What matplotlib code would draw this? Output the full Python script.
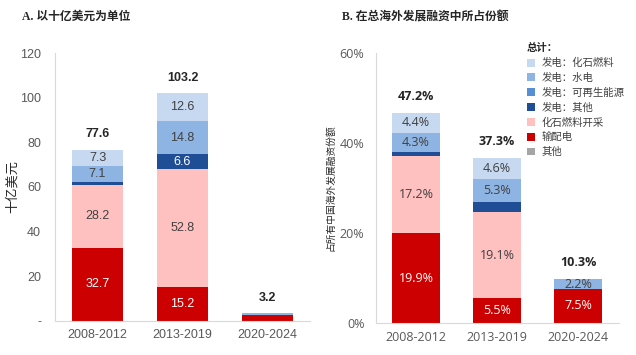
import matplotlib
matplotlib.use("Agg")
import matplotlib.pyplot as plt
from matplotlib.patches import Patch
import numpy as np

plt.rcParams['font.family'] = ['Liberation Sans', 'Noto Sans CJK SC', 'DejaVu Sans']

periods = ["2008-2012", "2013-2019", "2020-2024"]
series = ["发电：化石燃料", "发电：水电", "发电：可再生能源", "发电：其他",
          "化石燃料开采", "输配电", "其他"]
colors = ["#c6d9f1", "#8eb4e3", "#558ed5", "#1f4e96",
          "#ffc0c0", "#cc0000", "#a5a5a5"]
label_colors = ["#404040", "#404040", "#ffffff", "#ffffff",
                "#404040", "#ffffff", "#ffffff"]

# stacking order bottom -> top: 输配电, 化石燃料开采, 其他, 发电：其他, 可再生, 水电, 化石燃料
stack_order = [5, 4, 6, 3, 2, 1, 0]

# panel A, billion USD
usd = {
    "发电：化石燃料": [7.3, 12.6, 0.0],
    "发电：水电": [7.1, 14.8, 0.7],
    "发电：可再生能源": [0.0, 0.0, 0.0],
    "发电：其他": [1.2, 6.6, 0.0],
    "化石燃料开采": [28.2, 52.8, 0.0],
    "输配电": [32.7, 15.2, 2.5],
    "其他": [0.0, 0.0, 0.0],
}
usd_total = [77.6, 103.2, 3.2]

# panel B, share of overseas development finance (%)
share = {
    "发电：化石燃料": [4.4, 4.6, 0.0],
    "发电：水电": [4.3, 5.3, 2.2],
    "发电：可再生能源": [0.0, 0.0, 0.0],
    "发电：其他": [0.9, 2.2, 0.0],
    "化石燃料开采": [17.2, 19.1, 0.0],
    "输配电": [19.9, 5.5, 7.5],
    "其他": [0.0, 0.0, 0.0],
}
share_total = [47.2, 37.3, 10.3]


def stacked(ax, data, totals, fmt, min_label, skip, font, tot_fmt):
    x = np.arange(len(periods))
    bottom = np.zeros(len(periods))
    for i in stack_order:
        vals = np.array(data[series[i]])
        ax.bar(x, vals, 0.6, bottom=bottom, color=colors[i], linewidth=0)
        for xi, v, b in zip(x, vals, bottom):
            if v >= min_label and i not in skip:
                ax.text(xi, b + v / 2, fmt.format(v), ha="center", va="center",
                        color=label_colors[i], fontsize=9, family=font)
        bottom += vals
    for xi, b, t in zip(x, bottom, totals):
        ax.annotate(tot_fmt.format(t), (xi, b), xytext=(0, 7),
                    textcoords="offset points", ha="center", va="bottom",
                    fontsize=9, fontweight="bold", color="#262626", family=font)
    ax.set_xticks(x)
    ax.set_xticklabels(periods, fontsize=9, color="#595959", family=font)
    ax.set_xlim(-0.5, 2.5)
    for s in ["top", "right"]:
        ax.spines[s].set_visible(False)
    for s in ["left", "bottom"]:
        ax.spines[s].set_color("#d9d9d9")
    ax.tick_params(axis="x", length=0, pad=6)
    ax.tick_params(axis="y", length=0, pad=10)


fig = plt.figure(figsize=(6.36, 3.55), dpi=100)

axA = fig.add_axes([0.0865, 0.097, 0.401, 0.753])
stacked(axA, usd, usd_total, "{:.1f}", 3.0, [], "Liberation Sans", "{:.1f}")
axA.set_ylim(0, 120)
axA.set_yticks([0, 20, 40, 60, 80, 100, 120])
axA.set_yticklabels(["-", "20", "40", "60", "80", "100", "120"],
                    fontsize=9, color="#595959")
axA.set_ylabel("十亿美元", fontsize=9.5, family="Noto Sans CJK SC",
               color="#262626", labelpad=1)

axB = fig.add_axes([0.5905, 0.091, 0.382, 0.759])
stacked(axB, share, share_total, "{:.1f}%", 2.0, [3], "Open Sans", "{:.1f}%")
axB.set_ylim(0, 60)
axB.set_yticks([0, 20, 40, 60])
axB.set_yticklabels(["0%", "20%", "40%", "60%"], fontsize=9,
                    color="#595959", family="Open Sans")
axB.tick_params(axis="y", pad=8)
axB.set_ylabel("占所有中国海外发展融资份额", fontsize=7,
               family="Noto Sans CJK SC", color="#262626", labelpad=3)

fig.text(0.035, 0.952, "A. 以十亿美元为单位", fontsize=8.5, fontweight="bold",
         family=["Liberation Serif", "Noto Sans CJK SC"], va="center",
         color="#262626")
fig.text(0.538, 0.952, "B. 在总海外发展融资中所占份额", fontsize=8.5,
         fontweight="bold", family=["Liberation Serif", "Noto Sans CJK SC"],
         va="center", color="#262626")

handles = [Patch(facecolor=c, edgecolor="none") for c in colors]
leg = fig.legend(handles, series, loc="upper left",
                 bbox_to_anchor=(0.828, 0.878), frameon=False,
                 title="总计：", alignment="left",
                 prop={"family": "Noto Sans CJK SC", "size": 7.5},
                 title_fontproperties={"family": "Noto Sans CJK SC",
                                       "size": 7.5, "weight": "bold"},
                 handlelength=0.8, handleheight=0.8, handletextpad=0.6,
                 labelspacing=0.45, borderpad=0, borderaxespad=0)
for t in leg.get_texts():
    t.set_color("#404040")
leg.get_title().set_color("#262626")

fig.savefig("out.png", dpi=100)
